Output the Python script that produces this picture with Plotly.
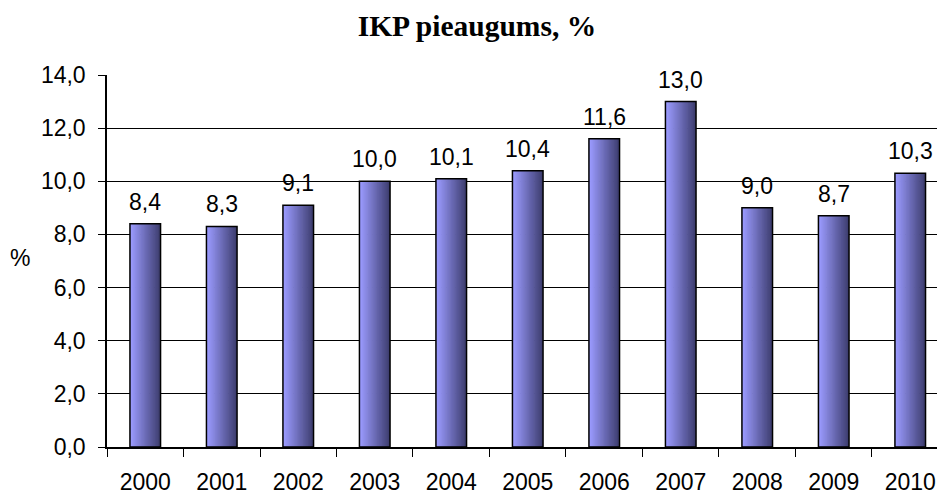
import plotly.graph_objects as go

years = ["2000", "2001", "2002", "2003", "2004", "2005", "2006", "2007", "2008", "2009", "2010"]
growth = [8.4, 8.3, 9.1, 10.0, 10.1, 10.4, 11.6, 13.0, 9.0, 8.7, 10.3]
y_ticks = [0, 2, 4, 6, 8, 10, 12, 14]
title_text = "IKP pieaugums, %"
y_title = "%"

W = 0.40
N = 24
c0 = (155, 155, 255)
c1 = (62, 62, 112)

fig = go.Figure()
for i in range(N):
    t = i / (N - 1)
    col = "rgb(%d,%d,%d)" % tuple(round(a + (b - a) * t) for a, b in zip(c0, c1))
    fig.add_trace(go.Bar(
        x=years, y=growth,
        width=W / N * 1.6,
        offset=-W / 2 + i * W / N - (W / N * 0.6 if i == N - 1 else 0),
        marker=dict(color=col, line=dict(width=0)),
        hoverinfo="skip", showlegend=False,
    ))

fig.add_trace(go.Bar(
    x=years, y=growth, width=W, offset=-W / 2,
    marker=dict(color="rgba(0,0,0,0)", line=dict(color="black", width=1.5)),
    showlegend=False,
))

for idx, yv in enumerate(growth):
    fig.add_annotation(x=idx, y=yv, text=("%.1f" % yv).replace(".", ","),
                       showarrow=False, yanchor="bottom", yshift=7,
                       font=dict(family="Liberation Sans, Arial", size=23, color="black"))

fig.add_annotation(xref="paper", yref="paper", x=-0.105, y=0.508, text=y_title,
                   showarrow=False, xanchor="center", yanchor="middle",
                   font=dict(family="Liberation Sans, Arial", size=23, color="black"))

fig.update_layout(
    width=937, height=494,
    margin=dict(l=107, r=0, t=75, b=47),
    barmode="overlay",
    separators=", ",
    paper_bgcolor="white", plot_bgcolor="white",
    title=dict(text="<b>" + title_text + "</b>", x=0.509, xanchor="center",
               yref="container", y=0.949, yanchor="middle",
               font=dict(family="Liberation Serif, Times New Roman", size=29.5, color="black")),
    font=dict(family="Liberation Sans, Arial", size=23, color="black"),
)
fig.update_yaxes(range=[0, 14], tickvals=y_ticks, tickformat=".1f",
                 showgrid=True, gridcolor="black", gridwidth=1,
                 showline=True, linecolor="black", linewidth=1.5,
                 ticks="outside", ticklen=7, tickcolor="black",
                 zeroline=False, ticklabelstandoff=8)
fig.update_xaxes(type="category", range=[-0.5, 10.35],
                 showline=True, linecolor="black", linewidth=1.5,
                 ticks="outside", ticklen=8, tickcolor="black", tickson="boundaries",
                 showgrid=False, ticklabelstandoff=14)

fig.write_html("out.html", config={"displayModeBar": False},
               post_script="document.body.style.margin='0';document.body.style.overflow='hidden';")
